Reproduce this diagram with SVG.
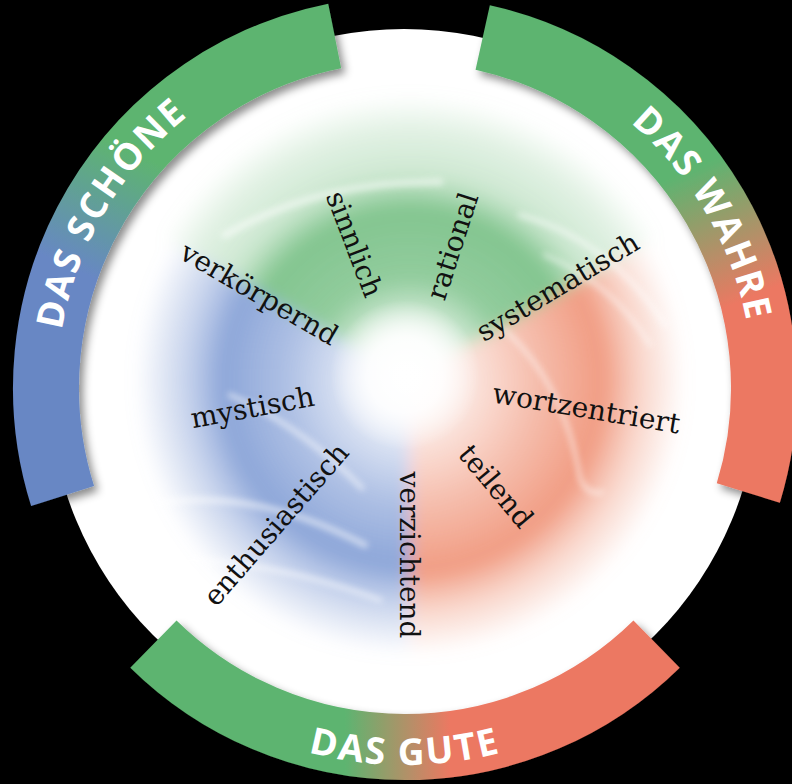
<svg xmlns="http://www.w3.org/2000/svg" width="792" height="784" viewBox="0 0 792 784">
  <defs>
    <style>
      .word { font-family: "DejaVu Serif", "Liberation Serif", serif; font-size: 28px; fill: #111; text-anchor: middle; }
      .band { fill: none; stroke-width: 66; stroke-linecap: butt; }
      .bandtext { font-family: "Open Sans", "Liberation Sans", sans-serif; font-weight: 700; font-size: 37px; fill: #ffffff; letter-spacing: 2px; }
      .streak { fill: none; stroke: #ffffff; stroke-linecap: round; }
    </style>
    <filter id="shadow" filterUnits="userSpaceOnUse" x="0" y="0" width="792" height="784">
      <feDropShadow dx="4" dy="5" stdDeviation="4" flood-color="#000" flood-opacity="0.45"/>
    </filter>
    <filter id="soft" filterUnits="userSpaceOnUse" x="0" y="0" width="792" height="784">
      <feGaussianBlur stdDeviation="8"/>
    </filter>
    <filter id="streakblur" filterUnits="userSpaceOnUse" x="0" y="0" width="792" height="784">
      <feGaussianBlur stdDeviation="3"/>
    </filter>
    <linearGradient id="gLeft" gradientUnits="userSpaceOnUse" x1="75" y1="270" x2="130" y2="150">
      <stop offset="0" stop-color="#6787C4"/>
      <stop offset="1" stop-color="#5DB470"/>
    </linearGradient>
    <linearGradient id="gRight" gradientUnits="userSpaceOnUse" x1="690" y1="170" x2="745" y2="300">
      <stop offset="0" stop-color="#5DB470"/>
      <stop offset="1" stop-color="#EC7862"/>
    </linearGradient>
    <linearGradient id="gBottom" gradientUnits="userSpaceOnUse" x1="345" y1="0" x2="450" y2="0">
      <stop offset="0" stop-color="#5DB470"/>
      <stop offset="1" stop-color="#EC7862"/>
    </linearGradient>
    <radialGradient id="rGreen" gradientUnits="userSpaceOnUse" cx="410" cy="380" r="285">
      <stop offset="0" stop-color="#6DBB7C" stop-opacity="0"/>
      <stop offset="0.17" stop-color="#6DBB7C" stop-opacity="0.15"/>
      <stop offset="0.36" stop-color="#6DBB7C" stop-opacity="0.75"/>
      <stop offset="0.6" stop-color="#6DBB7C" stop-opacity="0.85"/>
      <stop offset="0.72" stop-color="#8FCB98" stop-opacity="0.45"/>
      <stop offset="0.87" stop-color="#A8D6AE" stop-opacity="0.35"/>
      <stop offset="1" stop-color="#A8D6AE" stop-opacity="0"/>
    </radialGradient>
    <radialGradient id="rBlue" gradientUnits="userSpaceOnUse" cx="410" cy="380" r="275">
      <stop offset="0" stop-color="#7896D2" stop-opacity="0"/>
      <stop offset="0.2" stop-color="#7896D2" stop-opacity="0.2"/>
      <stop offset="0.45" stop-color="#7896D2" stop-opacity="0.6"/>
      <stop offset="0.68" stop-color="#7896D2" stop-opacity="0.85"/>
      <stop offset="0.82" stop-color="#94ABDB" stop-opacity="0.5"/>
      <stop offset="1" stop-color="#94ABDB" stop-opacity="0"/>
    </radialGradient>
    <radialGradient id="rRed" gradientUnits="userSpaceOnUse" cx="410" cy="380" r="275">
      <stop offset="0" stop-color="#EE8A6C" stop-opacity="0"/>
      <stop offset="0.2" stop-color="#EE8A6C" stop-opacity="0.2"/>
      <stop offset="0.45" stop-color="#EE8A6C" stop-opacity="0.55"/>
      <stop offset="0.7" stop-color="#EE8A6C" stop-opacity="0.85"/>
      <stop offset="0.84" stop-color="#F2A68E" stop-opacity="0.45"/>
      <stop offset="1" stop-color="#F2A68E" stop-opacity="0"/>
    </radialGradient>
    <radialGradient id="rGlow" gradientUnits="userSpaceOnUse" cx="405" cy="375" r="75">
      <stop offset="0" stop-color="#ffffff" stop-opacity="1"/>
      <stop offset="0.5" stop-color="#ffffff" stop-opacity="0.85"/>
      <stop offset="1" stop-color="#ffffff" stop-opacity="0"/>
    </radialGradient>
    <path id="tpLeft" d="M 73.1 492.6 A 348 348 0 0 1 336.8 46.8"/>
    <path id="tpRight" d="M 480.3 48.2 A 348 348 0 0 1 737.8 489.7"/>
    <path id="tpBottom" d="M 140.8 656.9 A 377 377 0 0 0 669.2 656.9"/>
  </defs>

  <rect width="792" height="784" fill="#000000"/>
  <circle id="disc" cx="404" cy="384" r="355" fill="#ffffff"/>

  <g id="fields" filter="url(#soft)">
    <path id="field-green" d="M 410 380 L 163 237.5 A 285 285 0 0 1 657 237.5 Z" fill="url(#rGreen)"/>
    <path id="field-red" d="M 410 380 L 648.2 242.5 A 275 275 0 0 1 410 655 Z" fill="url(#rRed)"/>
    <path id="field-blue" d="M 410 380 L 410 655 A 275 275 0 0 1 171.8 242.5 Z" fill="url(#rBlue)"/>
  </g>

  <g id="streaks" filter="url(#streakblur)" opacity="0.55">
    <path class="streak" stroke-width="5" d="M 230 395 Q 300 425 362 488"/>
    <path class="streak" stroke-width="6" d="M 150 505 Q 250 485 365 545"/>
    <path class="streak" stroke-width="5" d="M 175 560 Q 270 560 380 600"/>
    <path class="streak" stroke-width="5" d="M 520 215 Q 610 240 665 325"/>
    <path class="streak" stroke-width="4" d="M 545 255 Q 615 285 650 345"/>
    <path class="streak" stroke-width="4" d="M 505 330 Q 565 385 580 478 Q 587 496 602 492"/>
    <path class="streak" stroke-width="7" d="M 225 235 Q 320 180 440 182"/>
  </g>

  <circle id="glow" cx="405" cy="375" r="75" fill="url(#rGlow)"/>

  <g id="words">
    <g id="w-verkoerpernd" transform="translate(258,296) rotate(30)"><text class="word" x="0" y="7">verkörpernd</text></g>
    <g id="w-sinnlich" transform="translate(352,245) rotate(69)"><text class="word" x="0" y="7">sinnlich</text></g>
    <g id="w-rational" transform="translate(455,247) rotate(-72)"><text class="word" x="0" y="7">rational</text></g>
    <g id="w-systematisch" transform="translate(559,289) rotate(-31)"><text class="word" x="0" y="7">systematisch</text></g>
    <g id="w-mystisch" transform="translate(253,410) rotate(-10.5)"><text class="word" x="0" y="7">mystisch</text></g>
    <g id="w-wortzentriert" transform="translate(586,411) rotate(9.5)"><text class="word" x="0" y="7">wortzentriert</text></g>
    <g id="w-enthusiastisch" transform="translate(278,526) rotate(-49)"><text class="word" x="0" y="7">enthusiastisch</text></g>
    <g id="w-verzichtend" transform="translate(407,555) rotate(90)"><text class="word" x="0" y="7">verzichtend</text></g>
    <g id="w-teilend" transform="translate(494,488) rotate(50)"><text class="word" x="0" y="7">teilend</text></g>
  </g>

  <g id="band-schoene">
    <path class="band" filter="url(#shadow)" stroke="url(#gLeft)" d="M 62.6 496.0 A 359 359 0 0 1 334.7 36.0"/>
    <text class="bandtext"><textPath href="#tpLeft" startOffset="50%" text-anchor="middle">DAS SCHÖNE</textPath></text>
  </g>
  <g id="band-wahre">
    <path class="band" filter="url(#shadow)" stroke="url(#gRight)" d="M 482.7 37.5 A 359 359 0 0 1 748.3 493.0"/>
    <text class="bandtext"><textPath href="#tpRight" startOffset="50%" text-anchor="middle">DAS WAHRE</textPath></text>
  </g>
  <g id="band-gute">
    <path class="band" filter="url(#shadow)" stroke="url(#gBottom)" d="M 656.6 644.1 A 359 359 0 0 1 153.4 644.1"/>
    <text class="bandtext"><textPath href="#tpBottom" startOffset="50%" text-anchor="middle">DAS GUTE</textPath></text>
  </g>
</svg>
